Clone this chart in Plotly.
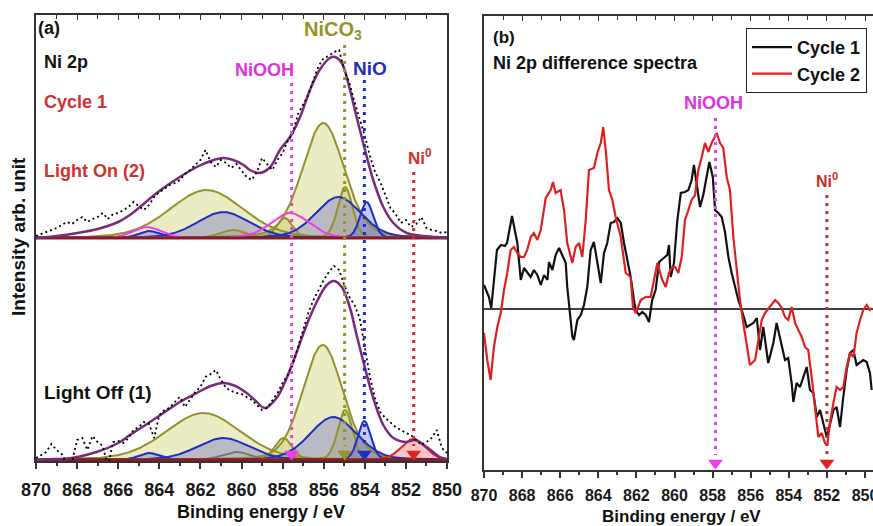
import numpy as np
import plotly.graph_objects as go

W, H = 873, 526
FONT = "Liberation Sans"

# ---------------- panel (a): Ni 2p spectra ----------------
be_grid = np.round(np.arange(870.0, 849.99, -0.25), 2)

raw_light_on = [0.02, 0.04, 0.06, 0.08, 0.10, 0.13, 0.16, 0.14, 0.18, 0.21,
                0.16, 0.19, 0.21, 0.25, 0.19, 0.24, 0.25, 0.28, 0.31, 0.36,
                0.32, 0.28, 0.33, 0.41, 0.46, 0.49, 0.53, 0.55, 0.58, 0.64,
                0.68, 0.73, 0.78, 0.88, 0.76, 0.71, 0.78, 0.75, 0.70, 0.74,
                0.68, 0.61, 0.58, 0.66, 0.80, 0.74, 0.68, 0.78, 0.85, 0.97,
                1.05, 1.24, 1.33, 1.43, 1.58, 1.72, 1.80, 1.82, 1.86, 1.88,
                1.68, 1.55, 1.36, 1.20, 1.02, 0.82, 0.66, 0.56, 0.42, 0.30,
                0.24, 0.15, 0.18, 0.11, 0.14, 0.21, 0.10, 0.08, 0.07, 0.05,
                0.06]

raw_light_off = [0.02, 0.05, 0.08, 0.16, 0.10, 0.06, -0.04, -0.02, 0.20, 0.22,
                 0.10, 0.24, 0.18, 0.14, -0.07, 0.18, 0.19, 0.17, 0.22, 0.30,
                 0.33, 0.38, 0.36, 0.22, 0.45, 0.50, 0.52, 0.58, 0.63, 0.53,
                 0.60, 0.68, 0.73, 0.83, 0.86, 0.90, 0.80, 0.72, 0.69, 0.67,
                 0.66, 0.63, 0.60, 0.55, 0.50, 0.52, 0.60, 0.67, 0.77, 0.85,
                 0.96, 1.12, 1.30, 1.47, 1.60, 1.70, 1.80, 1.88, 1.94, 1.90,
                 1.75, 1.63, 1.55, 1.42, 1.13, 0.83, 0.62, 0.48, 0.42, 0.37,
                 0.33, 0.30, 0.27, 0.25, 0.20, 0.15, 0.18, 0.22, 0.30, 0.12,
                 0.07]

# fit envelopes
env_on_be = [870.0, 869.0, 868.0, 867.0, 866.0, 865.43, 865.0, 864.0, 863.0, 862.18,
             861.5, 860.9, 860.4, 859.9, 859.59, 859.1, 858.6, 858.13, 857.64, 857.15,
             856.67, 856.2, 855.7, 855.45, 855.12, 854.72, 854.4, 853.99, 853.59, 853.1,
             852.61, 851.96, 851.17, 850.5, 850.0]
env_on = [0.00, 0.02, 0.05, 0.09, 0.16, 0.23, 0.30, 0.47, 0.61, 0.71,
          0.77, 0.80, 0.78, 0.73, 0.68, 0.65, 0.71, 0.88, 1.01, 1.21,
          1.48, 1.68, 1.80, 1.81, 1.75, 1.48, 1.21, 0.88, 0.58, 0.31,
          0.15, 0.05, 0.02, 0.01, 0.00]

env_off_be = [870.0, 869.0, 868.67, 867.05, 866.0, 865.43, 864.6, 863.8, 863.0, 862.18,
              861.5, 860.88, 860.3, 859.75, 859.3, 858.86, 858.29, 857.8, 857.31, 856.83,
              856.34, 855.85, 855.5, 855.12, 854.72, 854.4, 853.99, 853.59, 853.1, 852.61,
              851.96, 851.56, 850.99, 850.34, 850.0]
env_off = [0.00, 0.01, 0.01, 0.08, 0.17, 0.25, 0.36, 0.47, 0.58, 0.67,
           0.74, 0.77, 0.74, 0.67, 0.59, 0.52, 0.62, 0.82, 1.08, 1.35,
           1.58, 1.75, 1.79, 1.73, 1.52, 1.25, 0.92, 0.62, 0.35, 0.22,
           0.18, 0.20, 0.13, 0.03, 0.01]

# fitted components: species, centre (eV), height, FWHM (eV)
on_species = ["NiCO3", "NiCO3", "NiCO3", "NiCO3", "NiCO3",
              "NiO", "NiO", "NiO", "NiO", "NiOOH", "NiOOH"]
on_center = [856.02, 854.96, 857.90, 861.70, 860.40,
             855.29, 853.91, 860.88, 864.50, 857.64, 864.60]
on_height = [1.15, 0.51, 0.20, 0.48, 0.08,
             0.41, 0.36, 0.26, 0.07, 0.25, 0.11]
on_fwhm = [2.4, 0.85, 0.9, 4.2, 1.5,
           2.6, 0.75, 3.0, 1.2, 2.2, 1.6]

off_species = ["NiCO3", "NiCO3", "NiCO3", "NiCO3",
               "NiO", "NiO", "NiO", "NiO", "other", "Ni0"]
off_center = [856.05, 854.96, 857.96, 861.86,
              855.53, 854.02, 860.89, 864.50, 860.25, 851.64]
off_height = [1.15, 0.50, 0.22, 0.47,
              0.43, 0.39, 0.22, 0.07, 0.08, 0.21]
off_fwhm = [2.3, 0.85, 1.0, 4.3,
            2.7, 0.75, 3.0, 1.2, 1.6, 1.4]

on_offset = 2.22      # vertical stacking of the Light On spectrum
off_offset = 0.0

# reference positions for the chemical states
ref_a_energy = {"NiOOH": 857.56, "NiCO3": 854.98, "NiO": 854.02, "Ni0": 851.62}
ref_a_top = {"NiOOH": 3.77, "NiCO3": 4.15, "NiO": 3.80, "Ni0": 2.88}

# ---------------- panel (b): difference spectra ----------------
cyc1_be = [870.00, 869.74, 869.62, 869.42, 869.32, 869.11, 868.90, 868.79, 868.69, 868.53,
           868.25, 868.07, 867.90, 867.73, 867.55, 867.38, 867.20, 867.02, 866.85, 866.67,
           866.59, 866.41, 866.24, 866.06, 865.89, 865.71, 865.63, 865.50, 865.36, 865.28,
           865.10, 864.92, 864.75, 864.58, 864.40, 864.23, 864.05, 863.87, 863.70, 863.53,
           863.35, 863.18, 863.00, 862.82, 862.65, 862.48, 862.30, 862.13, 862.04, 861.86,
           861.69, 861.51, 861.34, 861.17, 860.99, 860.81, 860.55, 860.38, 860.29, 860.20,
           860.03, 859.85, 859.67, 859.45, 859.27, 859.10, 858.98, 858.83, 858.66, 858.49,
           858.31, 858.17, 857.99, 857.87, 857.70, 857.52, 857.35, 857.17, 857.00, 856.82,
           856.65, 856.47, 856.21, 855.86, 855.68, 855.51, 855.34, 855.08, 854.81, 854.64,
           854.46, 854.20, 854.03, 853.85, 853.76, 853.59, 853.41, 853.24, 853.06, 852.89,
           852.71, 852.53, 852.36, 852.19, 852.01, 851.87, 851.66, 851.49, 851.31, 851.14,
           850.96, 850.79, 850.61, 850.44, 850.26, 850.09, 849.91, 849.74, 849.65]
cyc1_val = [0.24, 0.12, 0.01, 0.44, 0.59, 0.64, 0.63, 0.66, 0.76, 0.93,
            0.66, 0.29, 0.41, 0.37, 0.32, 0.39, 0.34, 0.24, 0.34, 0.29,
            0.47, 0.39, 0.54, 0.61, 0.54, 0.46, 0.22, -0.01, -0.28, -0.31,
            -0.11, -0.06, 0.04, 0.22, 0.59, 0.67, 0.46, 0.26, 0.56, 0.66,
            0.86, 0.87, 0.91, 0.86, 0.66, 0.49, 0.32, 0.09, -0.01, -0.06,
            -0.03, -0.06, -0.13, 0.09, 0.19, 0.47, 0.51, 0.54, 0.64, 0.32,
            0.46, 0.89, 1.16, 1.17, 1.19, 1.29, 1.44, 1.22, 1.02, 1.14,
            1.32, 1.47, 1.32, 0.99, 0.96, 0.92, 0.77, 0.52, 0.36, 0.22,
            0.09, -0.01, -0.18, -0.14, -0.09, -0.41, -0.18, -0.54, -0.34, -0.14,
            -0.28, -0.51, -0.49, -0.74, -0.93, -0.74, -0.78, -0.69, -0.58, -0.81,
            -0.84, -1.08, -1.01, -1.14, -1.28, -1.18, -1.01, -0.98, -1.18, -0.88,
            -0.61, -0.44, -0.41, -0.56, -0.53, -0.51, -0.53, -0.64, -0.81]

cyc2_be = [870.00, 869.83, 869.65, 869.48, 869.30, 869.12, 868.95, 868.78, 868.60, 868.43,
           868.25, 868.07, 867.90, 867.73, 867.55, 867.38, 867.20, 867.02, 866.76, 866.50,
           866.38, 866.24, 865.98, 865.80, 865.63, 865.36, 865.19, 865.01, 864.84, 864.66,
           864.49, 864.23, 864.05, 863.87, 863.74, 863.61, 863.44, 863.26, 863.09, 862.82,
           862.56, 862.30, 862.18, 862.04, 861.77, 861.51, 861.25, 860.90, 860.64, 860.46,
           860.29, 860.11, 859.97, 859.80, 859.62, 859.45, 859.27, 859.10, 858.92, 858.75,
           858.57, 858.40, 858.22, 858.05, 857.78, 857.61, 857.44, 857.26, 857.09, 856.91,
           856.73, 856.56, 856.39, 856.21, 856.04, 855.77, 855.60, 855.42, 855.25, 854.99,
           854.72, 854.55, 854.37, 854.20, 854.03, 853.85, 853.67, 853.50, 853.32, 853.15,
           852.98, 852.80, 852.62, 852.45, 852.27, 852.10, 851.98, 851.84, 851.66, 851.49,
           851.31, 851.14, 850.96, 850.79, 850.61, 850.44, 850.26, 850.09, 849.91, 849.74,
           849.65]
cyc2_val = [-0.24, -0.51, -0.71, -0.38, -0.18, -0.04, 0.19, 0.36, 0.59, 0.62,
            0.56, 0.52, 0.52, 0.59, 0.72, 0.76, 0.69, 0.79, 1.11, 1.19,
            1.27, 1.16, 1.19, 0.99, 0.66, 0.46, 0.62, 0.66, 0.52, 0.89,
            1.39, 1.41, 1.56, 1.66, 1.82, 1.59, 1.19, 1.09, 0.92, 0.72,
            0.36, 0.32, 0.02, -0.04, 0.09, 0.12, 0.12, 0.46, 0.29, 0.22,
            0.36, 0.42, 0.42, 0.36, 0.52, 0.89, 0.99, 1.09, 1.14, 1.39,
            1.52, 1.66, 1.57, 1.66, 1.76, 1.66, 1.61, 1.32, 1.19, 0.72,
            0.39, 0.09, -0.14, -0.38, -0.56, -0.51, -0.31, -0.11, -0.04, 0.02,
            0.09, 0.06, 0.01, -0.08, -0.11, 0.02, -0.14, -0.21, -0.28, -0.38,
            -0.41, -0.68, -1.01, -1.28, -1.24, -1.34, -1.36, -1.14, -0.94, -0.78,
            -0.81, -0.78, -0.58, -0.44, -0.48, -0.24, -0.11, -0.01, 0.04, -0.01,
            0.01]

ref_b_energy = {"NiOOH": 857.85, "Ni0": 852.0}
ref_b_top = {"NiOOH": 1.91, "Ni0": 1.14}

# ---------------- styling ----------------
line_col = {"NiCO3": "#93932a", "NiO": "#1f2fc0", "NiOOH": "#f03cf0",
            "Ni0": "#e02222", "other": "#777777"}
fill_col = {"NiCO3": "rgba(190,190,60,0.30)", "NiO": "rgba(60,60,200,0.28)",
            "Ni0": "rgba(235,60,60,0.30)"}
envelope_col = "#7a2a7e"
baseline_col = "#8b1c1c"
text_red = "#d0312d"


def gl_peak(x, c, h, w, m=0.2):
    """Gaussian-Lorentzian (sum form) line shape."""
    t = ((x - c) / w) ** 2
    return h * ((1 - m) * np.exp(-4 * np.log(2) * t) + m / (1 + 4 * t))


be_fine = np.linspace(870, 850, 801)
fig = go.Figure()


def add_fit(species, centers, heights, fwhms, env_be, env, offset):
    curves = [gl_peak(be_fine, c, h, w) for c, h, w in zip(centers, heights, fwhms)]
    for sp, cv in zip(species, curves):
        if sp in fill_col:
            fig.add_trace(go.Scatter(
                x=list(be_fine) + [850, 870], y=list(cv + offset) + [offset, offset],
                fill="toself", fillcolor=fill_col[sp], mode="none",
                hoverinfo="skip", showlegend=False, xaxis="x", yaxis="y"))
    for sp, cv in zip(species, curves):
        fig.add_trace(go.Scatter(
            x=be_fine, y=cv + offset, mode="lines",
            line=dict(color=line_col[sp], width=2),
            hoverinfo="skip", showlegend=False, xaxis="x", yaxis="y"))
    fig.add_trace(go.Scatter(x=[870, 850], y=[offset, offset], mode="lines",
                             line=dict(color=baseline_col, width=3),
                             hoverinfo="skip", showlegend=False, xaxis="x", yaxis="y"))
    fig.add_trace(go.Scatter(x=env_be, y=np.array(env) + offset, mode="lines",
                             line=dict(color=envelope_col, width=2.5, shape="spline",
                                       smoothing=1.0),
                             hoverinfo="skip", showlegend=False, xaxis="x", yaxis="y"))


add_fit(off_species, off_center, off_height, off_fwhm, env_off_be, env_off, off_offset)
add_fit(on_species, on_center, on_height, on_fwhm, env_on_be, env_on, on_offset)

for raw, off in ((raw_light_off, off_offset), (raw_light_on, on_offset)):
    fig.add_trace(go.Scatter(x=be_grid, y=np.array(raw) + off, mode="lines",
                             line=dict(color="black", width=1.8, dash="2px,3px"),
                             hoverinfo="skip", showlegend=False, xaxis="x", yaxis="y"))

# reference lines and arrows, panel (a)
arrow_y_a = 0.06
for sp, e in ref_a_energy.items():
    col = line_col[sp]
    fig.add_trace(go.Scatter(x=[e, e], y=[ref_a_top[sp], arrow_y_a + 0.08], mode="lines",
                             line=dict(color=col, width=3, dash="3px,5px"),
                             hoverinfo="skip", showlegend=False, xaxis="x", yaxis="y"))
    fig.add_trace(go.Scatter(x=[e], y=[arrow_y_a], mode="markers",
                             marker=dict(symbol="triangle-down", size=13, color=col),
                             hoverinfo="skip", showlegend=False, xaxis="x", yaxis="y"))

# panel (b) traces
fig.add_trace(go.Scatter(x=[870, 849.58], y=[0, 0], mode="lines",
                         line=dict(color="black", width=1.6),
                         hoverinfo="skip", showlegend=False, xaxis="x2", yaxis="y2"))
fig.add_trace(go.Scatter(x=cyc1_be, y=cyc1_val, mode="lines", name="Cycle 1",
                         line=dict(color="#111111", width=2.2),
                         xaxis="x2", yaxis="y2"))
fig.add_trace(go.Scatter(x=cyc2_be, y=cyc2_val, mode="lines", name="Cycle 2",
                         line=dict(color="#e02020", width=2.2),
                         xaxis="x2", yaxis="y2"))

arrow_y_b = -1.54
for sp, e in ref_b_energy.items():
    col = line_col[sp] if sp != "Ni0" else "#c0302c"
    fig.add_trace(go.Scatter(x=[e, e], y=[ref_b_top[sp], arrow_y_b + 0.08], mode="lines",
                             line=dict(color=col, width=3, dash="3px,5px"),
                             hoverinfo="skip", showlegend=False, xaxis="x2", yaxis="y2"))
    fig.add_trace(go.Scatter(x=[e], y=[arrow_y_b], mode="markers",
                             marker=dict(symbol="triangle-down", size=13,
                                         color=line_col[sp]),
                             hoverinfo="skip", showlegend=False, xaxis="x2", yaxis="y2"))

# carriers for the top tick axes
fig.add_trace(go.Scatter(x=[860], y=[None], xaxis="x3", yaxis="y", showlegend=False,
                         hoverinfo="skip"))
fig.add_trace(go.Scatter(x=[860], y=[None], xaxis="x4", yaxis="y2", showlegend=False,
                         hoverinfo="skip"))

axis_col = "#333333"
xa_dom = [36 / W, 447 / W]
xb_dom = [484 / W, 1.0]
ya_dom = [1 - 461 / H, 1 - 15 / H]
yb_dom = [1 - 470 / H, 1 - 15.7 / H]
xb_range = [870, 849.58]


def bottom_axis(dom, rng, anchor, size, standoff):
    return dict(domain=dom, range=rng, anchor=anchor, tick0=850, dtick=2,
                ticks="outside", ticklen=6, tickwidth=1.5, tickcolor=axis_col,
                minor=dict(dtick=1, ticks="outside", ticklen=3, tickcolor=axis_col),
                showline=True, linecolor=axis_col, linewidth=1.5, mirror=True,
                showgrid=False, zeroline=False, ticklabelstandoff=standoff,
                automargin=False, ticklabeloverflow="allow",
                tickfont=dict(family=FONT, size=size, color="#1a1a1a", weight="bold"))


def top_axis(over, rng, anchor):
    return dict(overlaying=over, side="top", range=rng, anchor=anchor, tick0=850,
                dtick=2, ticks="inside", ticklen=5, tickwidth=1.2, tickcolor=axis_col,
                minor=dict(dtick=1, ticks="inside", ticklen=4, tickcolor=axis_col),
                showticklabels=False, showline=False, showgrid=False, zeroline=False,
                automargin=False)


fig.update_layout(
    width=W, height=H, margin=dict(l=0, r=0, t=0, b=0, autoexpand=False),
    paper_bgcolor="white", plot_bgcolor="white",
    xaxis=bottom_axis(xa_dom, [870, 850], "y", 18, 6),
    xaxis2=bottom_axis(xb_dom, xb_range, "y2", 16, 4),
    xaxis3=top_axis("x", [870, 850], "y"),
    xaxis4=top_axis("x2", xb_range, "y2"),
    yaxis=dict(domain=ya_dom, range=[-0.01, 4.45], anchor="x", showticklabels=False,
               ticks="", showline=True, linecolor=axis_col, linewidth=1.5, mirror=True,
               showgrid=False, zeroline=False, automargin=False),
    yaxis2=dict(domain=yb_dom, range=[-1.61, 2.933], anchor="x2", showticklabels=False,
                ticks="", showline=True, linecolor=axis_col, linewidth=1.5, mirror=False,
                showgrid=False, zeroline=False, automargin=False),
    showlegend=True,
    legend=dict(x=867 / W, y=1 - 28 / H, xanchor="right", yanchor="top",
                bgcolor="white", bordercolor="#222222", borderwidth=1,
                font=dict(family=FONT, size=18, color="#111111", weight="bold"),
                itemwidth=40, tracegroupgap=0),
)


def label(px, py, text, color="#111111", size=16, xanchor="left", angle=0):
    fig.add_annotation(x=px / W, y=1 - py / H, xref="paper", yref="paper",
                       text=text, showarrow=False, xanchor=xanchor, yanchor="middle",
                       textangle=angle,
                       font=dict(family=FONT, size=size, color=color, weight="bold"))


# panel (a) texts
label(36, 28, "(a)", size=18)
label(42, 62, "Ni 2p", size=18)
label(42, 102, "Cycle 1", color=text_red, size=18)
label(42, 171, "Light On (2)", color=text_red, size=18)
label(42, 392, "Light Off (1)", size=19)
label(333, 30, "NiCO<sub>3</sub>", color="#93932a", size=20, xanchor="center")
label(264, 70, "NiOOH", color="#e030e0", size=18, xanchor="center")
label(370, 68, "NiO", color="#1f2fc0", size=19, xanchor="center")
label(420, 157, "Ni<sup>0</sup>", color=text_red, size=17, xanchor="center")
label(261, 512, "Binding energy / eV", size=18, xanchor="center")
label(18, 237, "Intensity arb. unit", size=19, xanchor="center", angle=-90)

# panel (b) texts
label(491, 38, "(b)", size=17)
label(491, 63, "Ni 2p difference spectra", size=18)
label(713, 103, "NiOOH", color="#e030e0", size=18, xanchor="center")
label(827, 180, "Ni<sup>0</sup>", color="#c0302c", size=16, xanchor="center")
label(681, 516, "Binding energy / eV", size=17, xanchor="center")

fig.write_html("out.html")
